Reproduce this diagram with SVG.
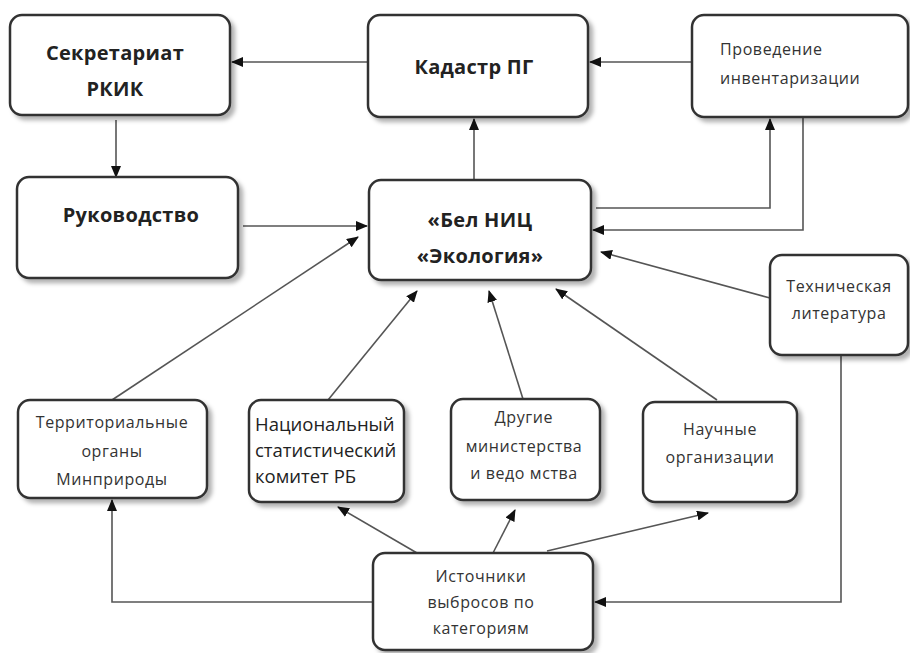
<svg xmlns="http://www.w3.org/2000/svg" width="910" height="653" viewBox="0 0 910 653">
<defs>
<filter id="sh" x="-10%" y="-10%" width="130%" height="130%">
<feDropShadow dx="4" dy="4" stdDeviation="2" flood-color="#000" flood-opacity="0.3"/>
</filter>
<marker id="ar" markerUnits="userSpaceOnUse" markerWidth="12" markerHeight="10" refX="11" refY="5" orient="auto">
<path d="M0,0 L12,5 L0,10 z" fill="#111"/>
</marker>
</defs>
<style>
.box{fill:#fff;stroke:#333;stroke-width:2.5;filter:url(#sh)}
.t{font-family:"Open Sans","Noto Sans",sans-serif;fill:#222}
.b{font-weight:bold;font-size:20px;letter-spacing:0.3px}
.n{font-size:16px;letter-spacing:0.6px;fill:#333}
.c{text-anchor:middle}
.ln{fill:none;stroke:#555;stroke-width:1.6;marker-end:url(#ar)}
</style>
<rect width="910" height="653" fill="#fff"/>
<g id="connectors">
<path class="ln" d="M367,62 L232,62"/>
<path class="ln" d="M692,62 L590,62"/>
<path class="ln" d="M116,120 L116,177"/>
<path class="ln" d="M243,226 L367,226"/>
<path class="ln" d="M474,180 L474,119"/>
<path class="ln" d="M596,208 L770,208 L770,119"/>
<path class="ln" d="M803,117 L803,230 L593,230"/>
<path class="ln" d="M770,298 L601,252"/>
<path class="ln" d="M841,355 L841,602 L595,602"/>
<path class="ln" d="M112,400 L358,237"/>
<path class="ln" d="M328,400 L417,291"/>
<path class="ln" d="M523,399 L489,291"/>
<path class="ln" d="M717,400 L556,289"/>
<path class="ln" d="M373,602 L112,602 L112,500"/>
<path class="ln" d="M417,553 L338,507"/>
<path class="ln" d="M493,553 L515,510"/>
<path class="ln" d="M547,551 L708,513"/>
</g>
<g id="secretariat">
<rect class="box" x="10" y="15" width="220" height="100" rx="12"/>
<text class="t b c" x="115" y="60">Секретариат</text>
<text class="t b c" x="115" y="96">РКИК</text>
</g>
<g id="kadastr">
<rect class="box" x="368" y="15" width="220" height="102" rx="12"/>
<text class="t b c" x="474" y="74">Кадастр ПГ</text>
</g>
<g id="provedenie">
<rect class="box" x="692" y="15" width="216" height="102" rx="12"/>
<text class="t n" x="720" y="55">Проведение</text>
<text class="t n" x="720" y="84">инвентаризации</text>
</g>
<g id="rukovodstvo">
<rect class="box" x="17" y="177" width="221" height="101" rx="12"/>
<text class="t b c" x="131" y="222">Руководство</text>
</g>
<g id="belnic">
<rect class="box" x="369" y="180" width="222" height="100" rx="12"/>
<text class="t b c" x="480" y="227">«Бел НИЦ</text>
<text class="t b c" x="480" y="263">«Экология»</text>
</g>
<g id="tehlit">
<rect class="box" x="770" y="255" width="138" height="100" rx="12"/>
<text class="t n c" x="839" y="292">Техническая</text>
<text class="t n c" x="839" y="319">литература</text>
</g>
<g id="territ">
<rect class="box" x="18" y="400" width="189" height="98" rx="12"/>
<text class="t n c" x="112" y="428">Территориальные</text>
<text class="t n c" x="112" y="457">органы</text>
<text class="t n c" x="112" y="485">Минприроды</text>
</g>
<g id="nacstat">
<rect class="box" x="249" y="400" width="155" height="102" rx="12"/>
<text class="t" x="255" y="431" style="font-size:18.5px">Национальный</text>
<text class="t" x="255" y="457" style="font-size:18.5px">статистический</text>
<text class="t" x="255" y="483" style="font-size:18.5px">комитет РБ</text>
</g>
<g id="drugie">
<rect class="box" x="451" y="399" width="149" height="101" rx="12"/>
<text class="t n c" x="524" y="423">Другие</text>
<text class="t n c" x="524" y="452">министерства</text>
<text class="t n c" x="524" y="479">и ведо мства</text>
</g>
<g id="nauchnye">
<rect class="box" x="643" y="402" width="154" height="100" rx="12"/>
<text class="t n c" x="720" y="435">Научные</text>
<text class="t n c" x="720" y="463">организации</text>
</g>
<g id="istochniki">
<rect class="box" x="373" y="553" width="220" height="97" rx="12"/>
<text class="t n c" x="481" y="582">Источники</text>
<text class="t n c" x="481" y="608">выбросов по</text>
<text class="t n c" x="481" y="634">категориям</text>
</g>
</svg>
